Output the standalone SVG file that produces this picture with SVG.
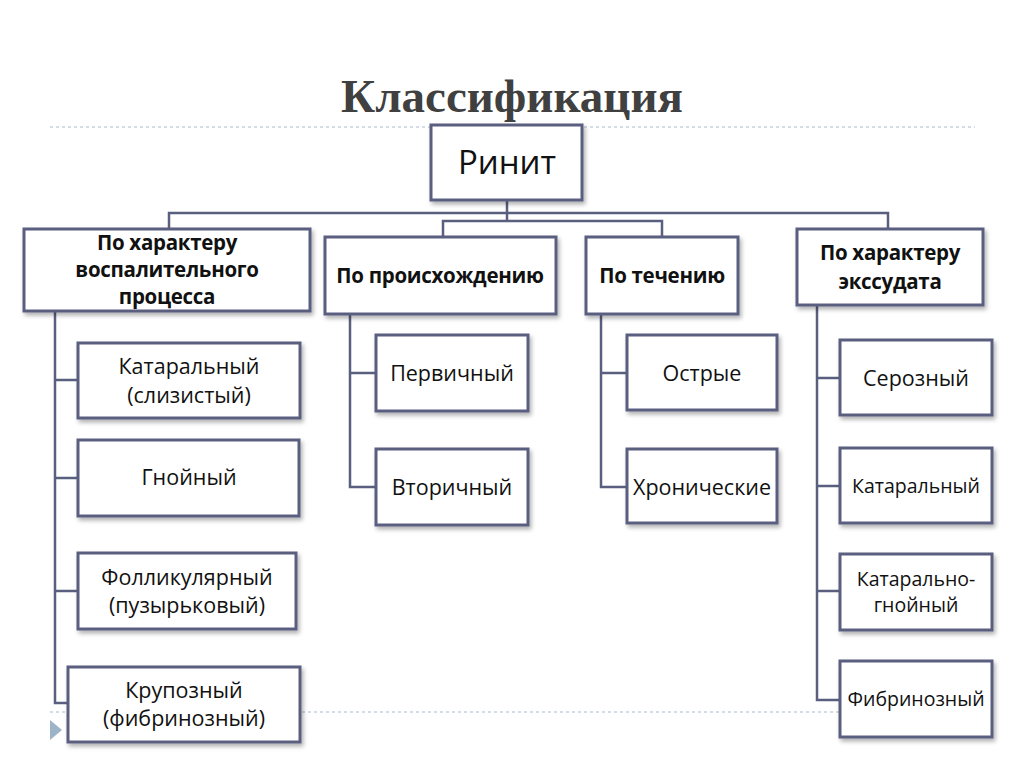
<svg xmlns="http://www.w3.org/2000/svg" width="1024" height="767" viewBox="0 0 1024 767">
<defs>
<filter id="sh" x="-10%" y="-10%" width="130%" height="140%"><feDropShadow dx="2" dy="3" stdDeviation="2" flood-color="#000" flood-opacity="0.3"/></filter>
<style>
.b{fill:#fff;stroke:#5a5f80;stroke-width:3;filter:url(#sh)}
.c{fill:none;stroke:#5a5f80;stroke-width:2.5}
.t{font-family:"Open Sans","Noto Sans",sans-serif;font-size:21.5px;fill:#111;text-anchor:middle}
.s{font-size:19.5px}
.h{font-family:"Open Sans","Noto Sans",sans-serif;font-size:20.5px;font-weight:bold;fill:#111;text-anchor:middle;letter-spacing:-0.3px}
.d{stroke:#a9bccb;stroke-width:1.2;stroke-dasharray:3 3}
</style>
</defs>
<rect width="1024" height="767" fill="#fff"/>
<text x="512" y="112" font-family="Liberation Serif,serif" font-size="47" font-weight="bold" fill="#404040" text-anchor="middle">Классификация</text>
<line class="d" x1="50" y1="127" x2="975" y2="127"/>
<line class="d" x1="50" y1="712" x2="975" y2="712"/>
<polygon points="50,720 62,730 50,740" fill="#9db4c8"/>
<g id="connectors">
<path class="c" d="M507 200V221M169 229V213H888V229M443 237V221H662V237"/>
<path class="c" d="M55 311V703H68M55 380H78M55 478H78M55 591H78"/>
<path class="c" d="M350 314V487H376M350 373H376"/>
<path class="c" d="M601 314V487H627M601 373H627"/>
<path class="c" d="M817 305V700H840M817 378H840M817 486H840M817 591H840"/>
</g>
<g id="n0"><rect class="b" x="431" y="125" width="151" height="75"/><text class="t" x="507" y="174" style="font-size:33px">Ринит</text></g>
<g id="n1"><rect class="b" x="24" y="229" width="286" height="82"/><text class="h" x="167" y="250">По характеру</text><text class="h" x="167" y="277">воспалительного</text><text class="h" x="167" y="304">процесса</text></g>
<g id="n2"><rect class="b" x="325" y="237" width="231" height="77"/><text class="h" x="440" y="283">По происхождению</text></g>
<g id="n3"><rect class="b" x="586" y="237" width="152" height="77"/><text class="h" x="662" y="283">По течению</text></g>
<g id="n4"><rect class="b" x="797" y="229" width="186" height="76"/><text class="h" x="890" y="260">По характеру</text><text class="h" x="890" y="289">экссудата</text></g>
<g id="n5"><rect class="b" x="78" y="343" width="222" height="75"/><text class="t" x="189" y="374">Катаральный</text><text class="t" x="189" y="403">(слизистый)</text></g>
<g id="n6"><rect class="b" x="78" y="440" width="221" height="76"/><text class="t" x="189" y="485">Гнойный</text></g>
<g id="n7"><rect class="b" x="78" y="553" width="218" height="76"/><text class="t" x="187" y="585">Фолликулярный</text><text class="t" x="187" y="613">(пузырьковый)</text></g>
<g id="n8"><rect class="b" x="68" y="667" width="232" height="75"/><text class="t" x="184" y="698">Крупозный</text><text class="t" x="184" y="726">(фибринозный)</text></g>
<g id="n9"><rect class="b" x="376" y="335" width="152" height="76"/><text class="t" x="452" y="381">Первичный</text></g>
<g id="n10"><rect class="b" x="376" y="449" width="152" height="76"/><text class="t" x="452" y="495">Вторичный</text></g>
<g id="n11"><rect class="b" x="627" y="335" width="150" height="75"/><text class="t" x="702" y="381">Острые</text></g>
<g id="n12"><rect class="b" x="627" y="449" width="150" height="74"/><text class="t" x="702" y="495">Хронические</text></g>
<g id="n13"><rect class="b" x="840" y="340" width="152" height="75"/><text class="t" x="916" y="386">Серозный</text></g>
<g id="n14"><rect class="b" x="840" y="448" width="152" height="75"/><text class="t s" x="916" y="493">Катаральный</text></g>
<g id="n15"><rect class="b" x="840" y="554" width="152" height="76"/><text class="t s" x="916" y="586">Катарально-</text><text class="t s" x="916" y="612">гнойный</text></g>
<g id="n16"><rect class="b" x="840" y="661" width="152" height="76"/><text class="t s" x="916" y="706">Фибринозный</text></g>
</svg>
